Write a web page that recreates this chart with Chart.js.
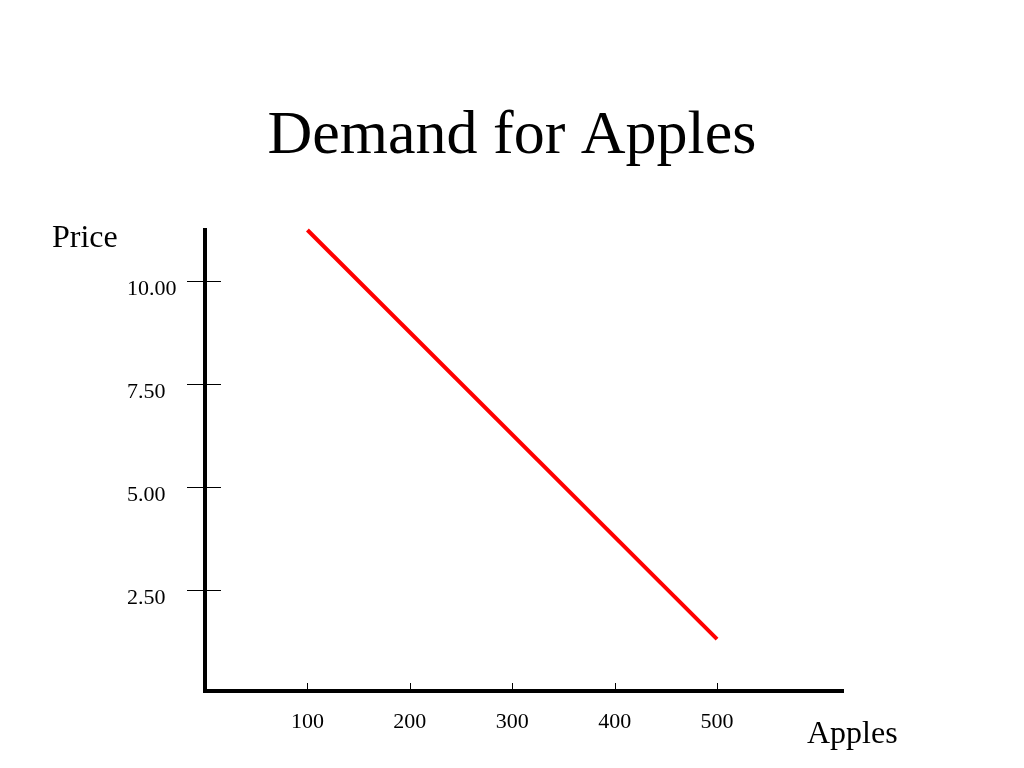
<!DOCTYPE html>
<html>
<head>
<meta charset="utf-8">
<title>Demand for Apples</title>
<script src="https://cdn.jsdelivr.net/npm/chart.js@4/dist/chart.umd.min.js"></script>
<style>
  html, body { margin: 0; padding: 0; background: #fff; }
  #wrap { width: 1024px; height: 768px; }
</style>
</head>
<body>
<div id="wrap"><canvas id="demandChart" width="1024" height="768"></canvas></div>
<script>
const quantities = [100, 500];
const prices = [11.24, 1.31];
const xTicks = [100, 200, 300, 400, 500];
const yTicks = [2.5, 5, 7.5, 10];

const serif = "'Liberation Serif', 'Times New Roman', serif";

// short tick marks: y ticks cross the axis, x ticks sit just above it
const tickMarks = {
    id: 'tick_marks',
    afterDraw: (chart) => {
        const ctx = chart.ctx;
        const area = chart.chartArea;
        const x = chart.scales.x;
        const y = chart.scales.y;
        ctx.save();
        ctx.strokeStyle = '#000';
        ctx.lineWidth = 1;
        yTicks.forEach(v => {
            const py = Math.round(y.getPixelForValue(v)) + 0.5;
            ctx.beginPath();
            ctx.moveTo(area.left - 18, py);
            ctx.lineTo(area.left + 16, py);
            ctx.stroke();
        });
        xTicks.forEach(v => {
            const px = Math.round(x.getPixelForValue(v)) + 0.5;
            ctx.beginPath();
            ctx.moveTo(px, area.bottom - 8);
            ctx.lineTo(px, area.bottom - 1);
            ctx.stroke();
        });
        ctx.restore();
    }
};

// slide title (centred on the page) and the axis names written flat
const slideText = {
    id: 'slide_text',
    afterDraw: (chart) => {
        const ctx = chart.ctx;
        const area = chart.chartArea;
        ctx.save();
        ctx.fillStyle = '#000';
        ctx.textBaseline = 'alphabetic';

        ctx.font = '62px ' + serif;
        ctx.textAlign = 'center';
        ctx.fillText('Demand for Apples', chart.width / 2, 153);

        ctx.font = '32px ' + serif;
        ctx.textAlign = 'left';
        ctx.fillText('Price', 52, area.top + 17);
        ctx.fillText('Apples', area.right - 36, area.bottom + 52);
        ctx.restore();
    }
};

const config = {
    type: 'scatter',
    data: {
        datasets: [{
            label: 'Demand',
            data: quantities.map((q, i) => ({ x: q, y: prices[i] })),
            showLine: true,
            borderColor: 'rgb(255, 0, 0)',
            backgroundColor: 'rgb(255, 0, 0)',
            borderWidth: 4,
            pointRadius: 0,
            clip: false
        }]
    },
    plugins: [tickMarks, slideText],
    options: {
        responsive: false,
        animation: false,
        layout: { padding: { left: 127, right: 181, top: 230, bottom: 0 } },
        plugins: {
            legend: { display: false },
            tooltip: { enabled: false },
            title: { display: false }
        },
        scales: {
            x: {
                type: 'linear',
                min: 0,
                max: 623,
                grid: { display: false, drawTicks: false },
                border: { display: true, color: '#000', width: 4 },
                afterBuildTicks: (scale) => { scale.ticks = xTicks.map(v => ({ value: v })); },
                afterFit: (scale) => { scale.height = 77; },
                ticks: {
                    color: '#000',
                    font: { family: serif, size: 22 },
                    padding: 18,
                    maxRotation: 0,
                    callback: (v) => String(v)
                }
            },
            y: {
                type: 'linear',
                min: 0.05,
                max: 11.24,
                grid: { display: false, drawTicks: false },
                border: { display: true, color: '#000', width: 4 },
                afterBuildTicks: (scale) => { scale.ticks = yTicks.map(v => ({ value: v })); },
                afterFit: (scale) => { scale.width = 78; },
                ticks: {
                    color: '#000',
                    font: { family: serif, size: 22 },
                    crossAlign: 'far',
                    labelOffset: 8,
                    callback: (v) => Number(v).toFixed(2)
                }
            }
        }
    }
};

const demandChart = new Chart(document.getElementById('demandChart'), config);
</script>
</body>
</html>
